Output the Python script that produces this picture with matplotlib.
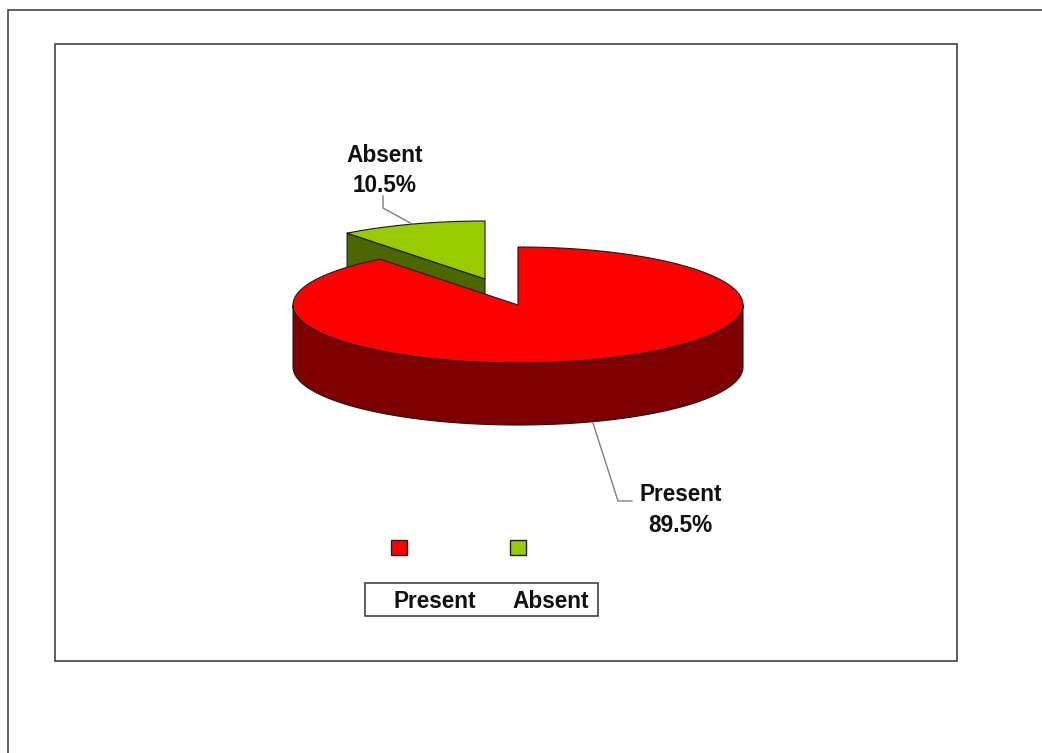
import numpy as np
import matplotlib
matplotlib.use('Agg')
import matplotlib.pyplot as plt
from matplotlib.patches import Polygon, Rectangle

categories = ['Present', 'Absent']
shares = [89.5, 10.5]
top_colors = ['#FF0000', '#99CC00']
side_colors = ['#7F0000', '#4C6600']

plt.rcParams['font.family'] = ['Liberation Sans', 'DejaVu Sans']

# pie geometry, in picture pixels
RX, RY = 225.0, 58.0
DEPTH = 62.0
CENTER = (518.0, 305.0)
EXPLODED = (485.0, 279.0)
EDGE = '#1a1a1a'


def rim(center, a0, a1, dz=0.0, n=200):
    t = np.radians(np.linspace(a0, a1, n))
    return np.column_stack((center[0] + RX*np.cos(t), center[1] - RY*np.sin(t) + dz))


def add_poly(ax, pts, color, lw=0.8):
    ax.add_patch(Polygon(pts, closed=True, facecolor=color, edgecolor=EDGE, linewidth=lw, joinstyle='round'))


fig = plt.figure(figsize=(10.42, 7.53), dpi=100, facecolor='white')
ax = fig.add_axes([0, 0, 1, 1])
ax.set_xlim(0, 1042)
ax.set_ylim(753, 0)
ax.axis('off')

# outer frame runs off the right and bottom of the picture
ax.plot([8, 8, 1042], [753, 10, 10], color='#333333', lw=1.1, solid_joinstyle='miter')
ax.add_patch(Rectangle((55, 44), 902, 617, facecolor='white', edgecolor='#333333', linewidth=1.1))

# angles go clockwise from 12 o'clock, red first
a_start = 90.0
a_end = a_start - shares[0] / sum(shares) * 360.0
green_left = a_start + shares[1] / sum(shares) * 360.0

# green slice goes first, the red one sits in front of it
g_corner = rim(EXPLODED, green_left, green_left, n=1)[0]
apex = np.array(EXPLODED)
down = np.array([0, DEPTH])
add_poly(ax, [g_corner, apex, apex + down, g_corner + down], side_colors[1])
add_poly(ax, np.vstack((rim(EXPLODED, a_start, green_left), [apex])), top_colors[1])

# red side wall, front half only
wall = np.vstack((rim(CENTER, -180, 0), rim(CENTER, 0, -180, DEPTH)))
add_poly(ax, wall, side_colors[0])
add_poly(ax, np.vstack((rim(CENTER, a_end, a_start, n=500), [CENTER])), top_colors[0])

# leader lines
ax.plot([383, 383, 412], [196, 208, 224], color='#7f7f7f', lw=1.0)
ax.plot([593, 618, 632], [423, 501, 501], color='#7f7f7f', lw=1.0)

label_font = dict(fontsize=16.3, fontweight='bold', color='#111111', ha='center', va='center')
ax.text(385, 155, categories[1], **label_font)
ax.text(385, 185, '%.1f%%' % shares[1], **label_font)
ax.text(681, 494, categories[0], **label_font)
ax.text(680, 526, '%.1f%%' % shares[0], **label_font)

# legend: keys float above a box that holds the names
key_x = [399, 517.5]
text_x = [435, 551]
ax.add_patch(Rectangle((365, 583), 233, 33, facecolor='white', edgecolor='#333333', linewidth=1.1))
for i, name in enumerate(categories):
    ax.add_patch(Rectangle((key_x[i]-8, 540), 16, 15, facecolor=top_colors[i], edgecolor='#222222', linewidth=1.0))
    ax.text(text_x[i], 601.5, name, **label_font)

fig.savefig('out.png', dpi=100, facecolor='white')
